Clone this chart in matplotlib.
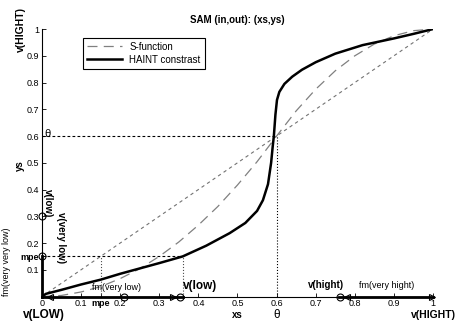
import matplotlib
matplotlib.use("Agg")
from matplotlib import pyplot as plt

plt.rcParams['font.family'] = ['Liberation Sans', 'DejaVu Sans']

# S-function
s_x = [0, 0.05, 0.1, 0.15, 0.2, 0.25, 0.3, 0.35, 0.4, 0.45, 0.5,
       0.55, 0.6, 0.65, 0.7, 0.75, 0.8, 0.85, 0.9, 0.95, 1]
s_y = [0, 0.004, 0.017, 0.037, 0.067, 0.104, 0.15, 0.204, 0.267, 0.337, 0.417,
       0.504, 0.6, 0.694, 0.775, 0.844, 0.9, 0.944, 0.975, 0.994, 1]

# HAINT contrast curve
h_x = [0, 0.01, 0.05, 0.1, 0.15, 0.2, 0.25, 0.3, 0.36, 0.42, 0.48, 0.52, 0.55,
       0.565, 0.578, 0.586, 0.59, 0.593, 0.597, 0.601, 0.607, 0.62, 0.64, 0.665,
       0.7, 0.75, 0.82, 0.9, 0.95, 1]
h_y = [0, 0.01, 0.025, 0.045, 0.063, 0.085, 0.105, 0.125, 0.15, 0.19, 0.237, 0.275, 0.32,
       0.36, 0.42, 0.5, 0.56, 0.6, 0.68, 0.735, 0.765, 0.795, 0.822, 0.848,
       0.876, 0.908, 0.94, 0.965, 0.982, 1]

theta = 0.6
mpe = 0.15
v_low = 0.36
v_hight = 0.76

x_ticks = [0, 0.1, 0.15, 0.2, 0.3, 0.4, 0.5, 0.6, 0.7, 0.8, 0.9, 1]
x_labels = ['0', '0.1', 'mpe', '0.2', '0.3', '0.4', '0.5', '0.6', '0.7', '0.8', '0.9', '1']
y_ticks = [0.1, 0.15, 0.2, 0.3, 0.4, 0.5, 0.6, 0.7, 0.8, 0.9, 1]
y_labels = ['0.1', 'mpe', '0.2', '0.3', '0.4', '0.5', '0.6', '0.7', '0.8', '0.9', '1']

fig = plt.figure(figsize=(4.6, 3.23), dpi=100)
ax = fig.add_axes([0.0913, 0.082, 0.85, 0.828])

# diagonal and guide lines
ax.plot([0, 1], [0, 1], color='0.45', lw=0.8, dashes=(3, 3))
ax.plot([0, theta], [theta, theta], color='k', lw=0.8, dashes=(2.5, 2))
ax.plot([theta, theta], [0, theta], color='k', lw=0.8, ls=':')
ax.plot([0, v_low], [mpe, mpe], color='k', lw=0.8, dashes=(2.5, 2))
ax.plot([mpe, mpe], [0, mpe], color='0.3', lw=0.8, ls=':')
ax.plot([v_low, v_low], [0, mpe], color='0.3', lw=0.8, ls=':')

ax.plot(s_x, s_y, color='0.5', lw=0.9, dashes=(8, 5), label='S-function')
ax.plot(h_x, h_y, color='k', lw=1.8, label='HAINT constrast')

# thick membership segments on axes
ax.plot([0, 0], [0, mpe], color='k', lw=2, clip_on=False)
ax.plot([0, v_low], [0, 0], color='k', lw=2, clip_on=False)
ax.plot([v_hight, 1], [0, 0], color='k', lw=2, clip_on=False)

mk = dict(color='k', mfc='none', ms=5, mew=0.8, ls='none', clip_on=False)
ax.plot([0, 0], [0.3, mpe], marker='o', **mk)
ax.plot([0.02, 0.78], [0, 0], marker='<', **mk)
ax.plot([0.335, 0.997], [0, 0], marker='>', **mk)
ax.plot([0.21, 0.353, 0.762], [0, 0, 0], marker='o', **mk)

ax.set_xlim(0, 1)
ax.set_ylim(0, 1)
for s in ['top', 'right']:
    ax.spines[s].set_visible(False)
for s in ['left', 'bottom']:
    ax.spines[s].set_linewidth(0.8)

ax.set_xticks(x_ticks)
ax.set_xticklabels(x_labels)
ax.set_yticks(y_ticks)
ax.set_yticklabels(y_labels)
ax.tick_params(direction='in', length=3, width=0.6, labelsize=6.5, pad=2)
for lab in ax.get_xticklabels() + ax.get_yticklabels():
    if lab.get_text() == 'mpe':
        lab.set_fontweight('bold')

leg = ax.legend(loc='upper left', bbox_to_anchor=(0.092, 0.985), fontsize=7,
                fancybox=False, edgecolor='k', framealpha=1, handlelength=3.6,
                borderpad=0.4, labelspacing=0.3)
leg.get_frame().set_linewidth(0.8)

kw = dict(clip_on=False, ha='center', va='center')
ax.text(0.5, 1.034, 'SAM (in,out): (xs,ys)', fontsize=7, fontweight='bold', **kw)
ax.text(-0.054, 1.0, 'v(HIGHT)', fontsize=7.5, fontweight='bold', rotation=90, **kw)
ax.text(-0.056, 0.49, 'ys', fontsize=7, fontweight='bold', rotation=90, **kw)
ax.text(0.015, 0.35, 'v(low)', fontsize=7, fontweight='bold', rotation=-90, **kw)
ax.text(0.049, 0.22, 'v(very low)', fontsize=7, fontweight='bold', rotation=-90, **kw)
ax.text(-0.092, 0.13, 'fm(very very low)', fontsize=6.5, rotation=90, **kw)
ax.text(0.013, 0.607, 'θ', fontsize=8, **kw)

ax.text(0.128, 0.035, 'fm(very low)', fontsize=6.5, clip_on=False, ha='left', va='center')
ax.text(0.36, 0.04, 'v(low)', fontsize=8.5, fontweight='bold', clip_on=False, ha='left', va='center')
ax.text(0.68, 0.043, 'v(hight)', fontsize=7, fontweight='bold', clip_on=False, ha='left', va='center')
ax.text(0.81, 0.043, 'fm(very hight)', fontsize=6.5, clip_on=False, ha='left', va='center')

ax.text(0.005, -0.069, 'v(LOW)', fontsize=8.5, fontweight='bold', **kw)
ax.text(0.5, -0.069, 'xs', fontsize=7, fontweight='bold', **kw)
ax.text(0.6, -0.069, 'θ', fontsize=8.5, **kw)
ax.text(0.943, -0.069, 'v(HIGHT)', fontsize=7.5, fontweight='bold', clip_on=False, ha='left', va='center')

fig.savefig('out.png', dpi=100)
